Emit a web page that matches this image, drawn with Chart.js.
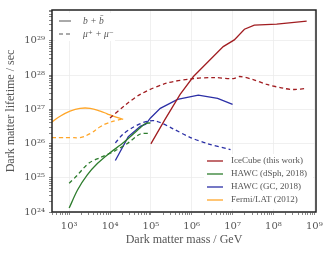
<!DOCTYPE html>
<html>
<head>
<meta charset="utf-8">
<script src="https://cdn.jsdelivr.net/npm/chart.js@4/dist/chart.umd.min.js"></script>
<style>
html, body { margin: 0; padding: 0; background: #fff; }
</style>
</head>
<body>
<canvas id="chart" width="332" height="255"></canvas>
<script>
"use strict";

// dark matter mass in GeV, lifetime limits in seconds
const icMassBB = [1e5, 2.2e5, 5.2e5, 1.1e6, 5.9e6, 1.1e7, 1.95e7, 3.4e7, 1.2e8, 6.5e8];
const icTauBB = [9.8e25, 5.0e26, 2.75e27, 9.1e27, 6.8e28, 1.07e29, 2.2e29, 2.9e29, 3.1e29, 3.8e29];
const icMassMM = [1e4, 2.3e4, 5.5e4, 2.4e5, 1.1e6, 3.4e6, 1.05e7, 1.5e7, 3.2e7, 6.8e7, 1.8e8, 3.2e8, 6.5e8];
const icTauMM = [5.6e26, 1.3e27, 2.75e27, 5.8e27, 7.9e27, 8.5e27, 7.9e27, 9.1e27, 7.4e27, 5.4e27, 4.1e27, 3.8e27, 4.1e27];

const dsphMassBB = [1e3, 1.6e3, 2.75e3, 4.9e3, 1e4, 2.1e4, 5.5e4, 7.5e4, 9.8e4];
const dsphTauBB = [1.3e24, 4.4e24, 1.2e25, 2.6e25, 5.4e25, 1.05e26, 2.9e26, 3.9e26, 4.0e26];
const dsphMassMM = [1e3, 1.6e3, 2.2e3, 3.2e3, 5.8e3, 1.35e4, 2.8e4, 5.5e4, 9.8e4];
const dsphTauMM = [6.9e24, 1.2e25, 1.85e25, 2.8e25, 3.9e25, 6.2e25, 1.05e26, 1.9e26, 2.0e26];

const gcMassBB = [1.35e4, 2.8e4, 4.2e4, 5.5e4, 7.5e4, 9.8e4, 1.7e5, 4.5e5, 1.45e6, 4.3e6, 1e7];
const gcTauBB = [3.2e25, 1.6e26, 2.4e26, 3.2e26, 3.7e26, 5.6e26, 1.07e27, 1.95e27, 2.6e27, 2.1e27, 1.4e27];
const gcMassMM = [1.35e4, 2.1e4, 3.5e4, 7.2e4, 1.3e5, 3.5e5, 9.3e5, 2.4e6, 8.9e6];
const gcTauMM = [1.05e26, 1.9e26, 2.9e26, 4.3e26, 4.6e26, 2.7e26, 1.5e26, 1.0e26, 6.6e25];

const fermiMassBB = [380, 600, 1050, 1850, 3250, 5750, 8500, 1.2e4, 2.1e4];
const fermiTauBB = [4.3e26, 6.3e26, 8.9e26, 1.07e27, 1.07e27, 8.9e26, 7.4e26, 6.3e26, 5.1e26];
const fermiMassMM = [380, 600, 1050, 1850, 3250, 5750, 8500, 1.5e4, 2.1e4];
const fermiTauMM = [1.5e26, 1.5e26, 1.5e26, 1.5e26, 1.95e26, 3.1e26, 3.9e26, 4.8e26, 5.2e26];

const experiments = ["IceCube (this work)", "HAWC (dSph, 2018)", "HAWC (GC, 2018)", "Fermi/LAT (2012)"];
const expColors = ["#a11d21", "#2e7d2e", "#2b2fa6", "#ffa629"];
const channels = ["b + b\u0304", "\u03bc\u207a + \u03bc\u207b"];

const xTickValues = [1e3, 1e4, 1e5, 1e6, 1e7, 1e8, 1e9];
const xTickLabels = ["10\u00b3", "10\u2074", "10\u2075", "10\u2076", "10\u2077", "10\u2078", "10\u2079"];
const yTickValues = [1e24, 1e25, 1e26, 1e27, 1e28, 1e29];
const yTickLabels = ["10\u00b2\u2074", "10\u00b2\u2075", "10\u00b2\u2076", "10\u00b2\u2077", "10\u00b2\u2078", "10\u00b2\u2079"];

const serif = "'Liberation Serif', 'DejaVu Serif', serif";
const tickSerif = "'DejaVu Serif', serif";
const textColor = "#555";

const pts = (xs, ys) => xs.map((x, i) => ({ x: x, y: ys[i] }));

const line = (label, xs, ys, color, dashed, tension) => ({
	label: label,
	data: pts(xs, ys),
	borderColor: color,
	borderWidth: 1.3,
	borderDash: dashed ? [4, 3] : [],
	pointRadius: 0,
	fill: false,
	tension: tension || 0,
});

const logTicks = (majors, min, max) => {
	const ticks = [];
	const decades = [majors[0] / 10, ...majors];
	decades.forEach((d) => {
		for (let k = 1; k < 10; k++) {
			const v = k === 1 ? d : d * k;
			if (v >= min && v <= max) ticks.push({ value: v, major: majors.includes(v) });
		}
	});
	return ticks;
};

const frame = {
	id: "frame",
	afterDatasetsDraw(chart) {
		const { ctx, chartArea } = chart;
		ctx.save();
		ctx.strokeStyle = "#222";
		ctx.lineWidth = 1.5;
		ctx.strokeRect(chartArea.left, chartArea.top, chartArea.right - chartArea.left, chartArea.bottom - chartArea.top);
		ctx.restore();
	},
};

const legends = {
	id: "legends",
	afterDatasetsDraw(chart) {
		const { ctx, chartArea } = chart;
		ctx.save();
		ctx.textBaseline = "middle";
		ctx.textAlign = "left";

		// channel legend, top left
		ctx.fillStyle = "#fff";
		ctx.fillRect(chartArea.left + 3, chartArea.top + 3, 60, 28);
		channels.forEach((c, i) => {
			const y = chartArea.top + 11 + i * 13;
			ctx.strokeStyle = "#555";
			ctx.lineWidth = 1;
			ctx.setLineDash(i === 0 ? [] : [4, 3]);
			ctx.beginPath();
			ctx.moveTo(chartArea.left + 7, y);
			ctx.lineTo(chartArea.left + 19, y);
			ctx.stroke();
			ctx.fillStyle = textColor;
			ctx.font = "italic 9.5px " + serif;
			ctx.fillText(c, chartArea.left + 31, y);
		});

		// experiment legend, bottom right
		ctx.setLineDash([]);
		ctx.fillStyle = "#fff";
		ctx.fillRect(chartArea.right - 112, chartArea.bottom - 58, 109, 55);
		experiments.forEach((e, i) => {
			const y = chartArea.bottom - 51 + i * 13;
			ctx.strokeStyle = expColors[i];
			ctx.lineWidth = 1.3;
			ctx.beginPath();
			ctx.moveTo(chartArea.right - 109, y);
			ctx.lineTo(chartArea.right - 93, y);
			ctx.stroke();
			ctx.fillStyle = textColor;
			ctx.font = "9px " + serif;
			ctx.fillText(e, chartArea.right - 85, y);
		});
		ctx.restore();
	},
};

const ctx = document.getElementById("chart").getContext("2d");
const chart = new Chart(ctx, {
	type: "line",
	data: {
		datasets: [
			line(experiments[0], icMassBB, icTauBB, expColors[0], false),
			line(experiments[0], icMassMM, icTauMM, expColors[0], true, 0.3),
			line(experiments[1], dsphMassBB, dsphTauBB, expColors[1], false, 0.3),
			line(experiments[1], dsphMassMM, dsphTauMM, expColors[1], true, 0.3),
			line(experiments[2], gcMassBB, gcTauBB, expColors[2], false),
			line(experiments[2], gcMassMM, gcTauMM, expColors[2], true, 0.3),
			line(experiments[3], fermiMassBB, fermiTauBB, expColors[3], false, 0.4),
			line(experiments[3], fermiMassMM, fermiTauMM, expColors[3], true, 0.4),
		],
	},
	options: {
		responsive: false,
		animation: false,
		layout: { padding: { left: 0, right: 16, top: 8, bottom: 0 } },
		plugins: {
			legend: { display: false },
			tooltip: { enabled: false },
		},
		scales: {
			x: {
				type: "logarithmic",
				min: 380,
				max: 1.1e9,
				afterFit: (axis) => { axis.height = 43; },
				afterBuildTicks: (axis) => { axis.ticks = logTicks(xTickValues, axis.min, axis.max); },
				border: { display: false },
				grid: {
					color: (c) => (c.tick && c.tick.major ? "#ececec" : "rgba(0,0,0,0)"),
					lineWidth: 0.8,
					tickColor: "#555",
					tickLength: 3,
					tickWidth: 0.7,
				},
				ticks: {
					autoSkip: false,
					maxRotation: 0,
					padding: 5,
					color: textColor,
					font: { family: tickSerif, size: 10 },
					callback: (v) => {
						const i = xTickValues.indexOf(v);
						return i >= 0 ? xTickLabels[i] : "";
					},
				},
				title: {
					display: true,
					text: "Dark matter mass / GeV",
					color: textColor,
					font: { family: serif, size: 12 },
					padding: { top: 0, bottom: 8 },
				},
			},
			y: {
				type: "logarithmic",
				min: 1e24,
				max: 8e29,
				afterFit: (axis) => { axis.width = 52; },
				afterBuildTicks: (axis) => { axis.ticks = logTicks(yTickValues, axis.min, axis.max); },
				border: { display: false },
				grid: {
					color: (c) => (c.tick && c.tick.major ? "#ececec" : "rgba(0,0,0,0)"),
					lineWidth: 0.8,
					tickColor: "#555",
					tickLength: 3,
					tickWidth: 0.7,
				},
				ticks: {
					autoSkip: false,
					padding: 4,
					color: textColor,
					font: { family: tickSerif, size: 10 },
					callback: (v) => {
						const i = yTickValues.indexOf(v);
						return i >= 0 ? yTickLabels[i] : "";
					},
				},
				title: {
					display: true,
					text: "Dark matter lifetime / sec",
					color: textColor,
					font: { family: serif, size: 12 },
					padding: { top: 4, bottom: 0 },
				},
			},
		},
	},
	plugins: [frame, legends],
});
</script>
</body>
</html>
